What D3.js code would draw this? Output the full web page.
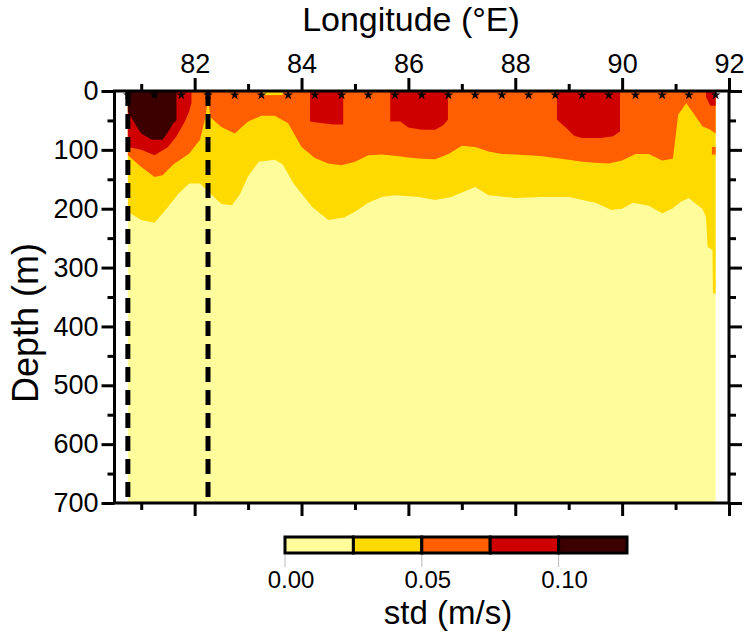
<!DOCTYPE html>
<html>
<head>
<meta charset="utf-8">
<script src="https://cdn.jsdelivr.net/npm/d3@7"></script>
<style>
  body { margin: 0; background: #fff; }
  text { font-family: "Liberation Sans", Arial, Helvetica, sans-serif; fill: #000; }
</style>
</head>
<body>
<div id="chart"></div>
<script>
const width = 747;
const height = 633;

// colour levels of std (m/s)
const levels = [0, 0.025, 0.05, 0.075, 0.1, 0.125];
const levelColors = ["#fffc9c", "#ffda00", "#ff5f00", "#cf0000", "#3d0000"];
const legendTicks = [0, 0.05, 0.1];

const lonTicks = [82, 84, 86, 88, 90, 92];
const lonMinor = [81, 83, 85, 87, 89, 91];
const depthTicks = [0, 100, 200, 300, 400, 500, 600, 700];
const depthMinor = [50, 150, 250, 350, 450, 550, 650];

// CTD stations along the section (stars) and the dashed lines
const stations = d3.range(23).map((i) => 80.75 + i * 0.5);
const dashedLon = [80.75, 82.25];
const sectionLon = [80.75, 91.75];
const maxDepth = 700;

// depth (m) where std drops below 0.025 (bottom of the gold band)
const goldEdge = [
  [80.75, 205], [81.0, 219], [81.25, 224], [81.5, 197], [81.7, 174], [81.9, 157],
  [82.1, 157], [82.3, 175], [82.5, 192], [82.7, 194], [82.85, 175], [83.0, 145],
  [83.2, 120], [83.5, 117], [83.65, 125], [83.85, 157], [84.2, 197], [84.5, 219],
  [84.8, 215], [85.0, 205], [85.25, 190], [85.5, 180], [85.75, 177], [86.2, 180],
  [86.5, 185], [86.8, 180], [87.25, 163], [87.5, 177], [88.0, 182], [88.5, 180],
  [89.0, 180], [89.5, 190], [89.8, 202], [90.0, 200], [90.2, 190], [90.5, 195],
  [90.75, 208], [90.95, 199], [91.1, 188], [91.25, 182], [91.35, 190], [91.5, 200],
  [91.57, 214], [91.6, 265], [91.69, 270], [91.7, 344], [91.75, 344]
];

// depth (m) where std drops below 0.05 (bottom of the orange band)
const orangeEdge = [
  [80.75, 109], [81.0, 129], [81.25, 146], [81.4, 143], [81.6, 125], [81.9, 106],
  [82.1, 83], [82.2, 45], [82.25, 15], [82.3, 45], [82.5, 61], [82.75, 72],
  [83.0, 52], [83.25, 42], [83.5, 42], [83.75, 55], [84.0, 95], [84.25, 114],
  [84.5, 123], [84.75, 126], [85.0, 120], [85.25, 109], [85.5, 108], [85.75, 110],
  [86.0, 113], [86.25, 115], [86.5, 116], [86.75, 107], [87.0, 93], [87.25, 95],
  [87.5, 103], [87.75, 107], [88.0, 108], [88.25, 109], [88.5, 111], [88.75, 114],
  [89.0, 117], [89.25, 120], [89.5, 122], [89.75, 123], [90.0, 118], [90.25, 107],
  [90.5, 107], [90.75, 118], [90.95, 115], [91.05, 40], [91.2, 21], [91.35, 40],
  [91.5, 60], [91.65, 66], [91.75, 72]
];

// patches where std > 0.075, each from the surface down
const redPatches = [
  [[80.75, 95], [81.0, 100], [81.25, 109], [81.5, 95], [81.65, 78], [81.8, 55], [81.9, 34], [81.94, 20]],
  [[84.16, 52], [84.4, 55], [84.6, 57], [84.78, 57]],
  [[85.66, 52], [85.85, 52], [86.0, 62], [86.25, 66], [86.5, 66], [86.65, 58], [86.74, 49]],
  [[88.78, 49], [88.97, 64], [89.1, 76], [89.25, 80], [89.6, 80], [89.83, 77], [89.96, 69]],
  [[91.57, 10], [91.65, 25], [91.75, 25]]
];

// patch where std > 0.1
const darkPatch = [
  [80.75, 35], [80.9, 58], [81.0, 72], [81.2, 83], [81.4, 83], [81.5, 70], [81.6, 55], [81.66, 50]
];

// small gold spot at the surface and orange spot at the east end
const goldSpot = [[83.27, 0, 7], [83.65, 0, 7]];
const orangeSpot = [[91.68, 95, 108], [91.75, 95, 108]];

const svg = d3
  .select("#chart")
  .append("svg")
  .attr("width", width)
  .attr("height", height);

const x = d3.scaleLinear().domain([80.5, 92]).range([114.5, 729]);
const y = d3.scaleLinear().domain([0, maxDepth]).range([91, 503]);

const fromTop = d3
  .area()
  .x((d) => x(d[0]))
  .y0(y(0))
  .y1((d) => y(d[1]));

const band = d3
  .area()
  .x((d) => x(d[0]))
  .y0((d) => y(d[1]))
  .y1((d) => y(d[2]));

const plot = svg.append("g");

// background: lowest level everywhere in the section
plot
  .append("rect")
  .attr("x", x(sectionLon[0]))
  .attr("y", y(0))
  .attr("width", x(sectionLon[1]) - x(sectionLon[0]))
  .attr("height", y(maxDepth) - y(0))
  .attr("fill", levelColors[0]);

plot.append("path").attr("d", fromTop(goldEdge)).attr("fill", levelColors[1]);
plot.append("path").attr("d", fromTop(orangeEdge)).attr("fill", levelColors[2]);
plot.append("path").attr("d", band(goldSpot)).attr("fill", levelColors[1]);
plot.append("path").attr("d", band(orangeSpot)).attr("fill", levelColors[2]);

plot
  .selectAll("path.red")
  .data(redPatches)
  .enter()
  .append("path")
  .attr("class", "red")
  .attr("d", (d) => fromTop(d))
  .attr("fill", levelColors[3]);

plot.append("path").attr("d", fromTop(darkPatch)).attr("fill", levelColors[4]);

// dashed section boundaries
plot
  .selectAll("line.dash")
  .data(dashedLon)
  .enter()
  .append("line")
  .attr("class", "dash")
  .attr("x1", (d) => x(d))
  .attr("x2", (d) => x(d))
  .attr("y1", y(0))
  .attr("y2", y(maxDepth))
  .attr("stroke", "#000")
  .attr("stroke-width", 5)
  .attr("stroke-dasharray", "15,8");

// station stars
plot
  .selectAll("path.star")
  .data(stations)
  .enter()
  .append("path")
  .attr("class", "star")
  .attr("transform", (d) => `translate(${x(d)},${y(0) + 4})`)
  .attr("d", d3.symbol().type(d3.symbolStar).size(30))
  .attr("fill", "#000");

// axes
function styleAxis(g) {
  g.select(".domain").remove();
  g.selectAll(".tick line").attr("stroke", "#000").attr("stroke-width", 3);
  g.selectAll(".tick text")
    .style("font-family", '"Liberation Sans", Arial, sans-serif')
    .attr("fill", "#000");
}

svg
  .append("g")
  .attr("transform", `translate(0,${y(0)})`)
  .call(d3.axisTop(x).tickValues(lonTicks).tickSize(13).tickPadding(5).tickFormat(d3.format("d")))
  .call(styleAxis)
  .selectAll(".tick text")
  .style("font-size", "27px");
svg
  .append("g")
  .attr("transform", `translate(0,${y(0)})`)
  .call(d3.axisTop(x).tickValues(lonMinor).tickSize(7).tickFormat(""))
  .call(styleAxis);

svg
  .append("g")
  .attr("transform", `translate(0,${y(maxDepth)})`)
  .call(d3.axisBottom(x).tickValues(lonTicks).tickSize(13).tickFormat(""))
  .call(styleAxis);
svg
  .append("g")
  .attr("transform", `translate(0,${y(maxDepth)})`)
  .call(d3.axisBottom(x).tickValues(lonMinor).tickSize(7).tickFormat(""))
  .call(styleAxis);

svg
  .append("g")
  .attr("transform", `translate(${x(80.5)},0)`)
  .call(d3.axisLeft(y).tickValues(depthTicks).tickSize(13).tickPadding(3).tickFormat(d3.format("d")))
  .call(styleAxis)
  .selectAll(".tick text")
  .style("font-size", "27px");
svg
  .append("g")
  .attr("transform", `translate(${x(80.5)},0)`)
  .call(d3.axisLeft(y).tickValues(depthMinor).tickSize(7).tickFormat(""))
  .call(styleAxis);

svg
  .append("g")
  .attr("transform", `translate(${x(92)},0)`)
  .call(d3.axisRight(y).tickValues(depthTicks).tickSize(13).tickFormat(""))
  .call(styleAxis);
svg
  .append("g")
  .attr("transform", `translate(${x(92)},0)`)
  .call(d3.axisRight(y).tickValues(depthMinor).tickSize(7).tickFormat(""))
  .call(styleAxis);

// frame
svg
  .append("rect")
  .attr("x", x(80.5))
  .attr("y", y(0))
  .attr("width", x(92) - x(80.5))
  .attr("height", y(maxDepth) - y(0))
  .attr("fill", "none")
  .attr("stroke", "#000")
  .attr("stroke-width", 3);

// axis titles
svg
  .append("text")
  .attr("x", 411)
  .attr("y", 31)
  .attr("text-anchor", "middle")
  .style("font-size", "34px")
  .text("Longitude (°E)");

svg
  .append("text")
  .attr("transform", "translate(38,323) rotate(-90)")
  .attr("text-anchor", "middle")
  .style("font-size", "36px")
  .text("Depth (m)");

// colour bar
const c = d3.scaleLinear().domain([0, 0.125]).range([285, 627]);
const bar = svg.append("g");
bar
  .selectAll("rect")
  .data(d3.pairs(levels))
  .enter()
  .append("rect")
  .attr("x", (d) => c(d[0]))
  .attr("y", 537)
  .attr("width", (d) => c(d[1]) - c(d[0]))
  .attr("height", 16)
  .attr("fill", (d, i) => levelColors[i])
  .attr("stroke", "#000")
  .attr("stroke-width", 3);

bar
  .selectAll("line")
  .data(legendTicks)
  .enter()
  .append("line")
  .attr("x1", (d) => c(d))
  .attr("x2", (d) => c(d))
  .attr("y1", 555)
  .attr("y2", 567)
  .attr("stroke", "#bbb")
  .attr("stroke-width", 1);

bar
  .selectAll("text")
  .data(legendTicks)
  .enter()
  .append("text")
  .attr("x", (d) => c(d) + 6)
  .attr("y", 588)
  .attr("text-anchor", "middle")
  .style("font-size", "24px")
  .text((d) => d3.format(".2f")(d));

svg
  .append("text")
  .attr("x", 448)
  .attr("y", 624)
  .attr("text-anchor", "middle")
  .style("font-size", "33px")
  .text("std (m/s)");
</script>
</body>
</html>
